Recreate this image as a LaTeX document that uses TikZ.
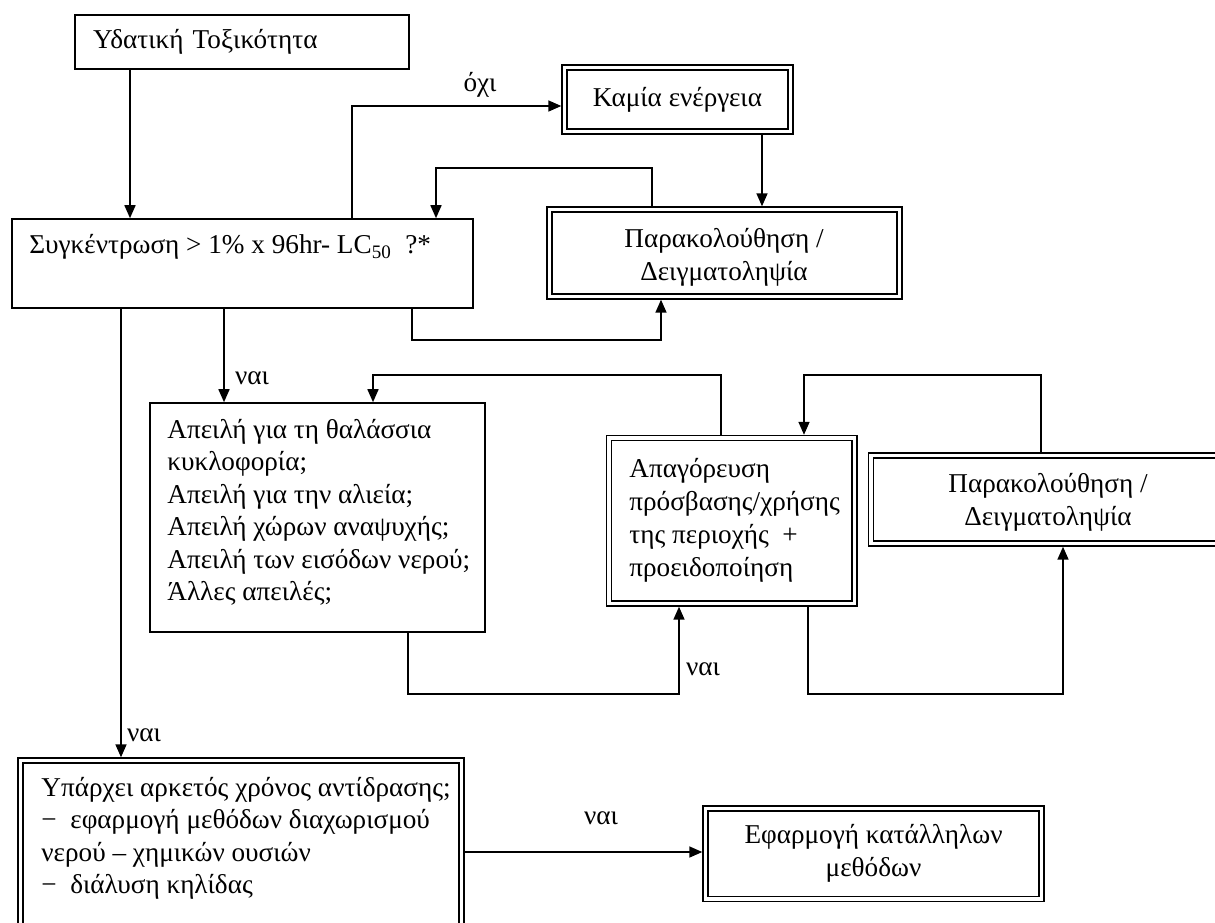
\documentclass[tikz,border=0pt]{standalone}
\usepackage{fontspec}
\setmainfont{Liberation Serif}
\usetikzlibrary{arrows.meta}
\begin{document}
\begin{tikzpicture}[x=0.5pt,y=-0.5pt,
  txt/.style={font=\fontsize{13.6}{16.2}\selectfont, inner sep=0pt},
  wide/.style={font=\fontsize{13.6}{16.5}\selectfont, inner sep=0pt},
  single/.style={draw, line width=0.8pt, outer sep=0.4pt, inner sep=0pt, txt},
  dbl/.style={draw, double, line width=0.7pt, double distance=1.8pt,
    outer sep=1.6pt, inner sep=0pt, align=center, wide},
  conn/.style={line width=0.8pt},
  arr/.style={conn, -{Triangle[length=6.5pt,width=5.5pt]}},
  lab/.style={txt}
]
\useasboundingbox (0,0) rectangle (1215,922);
\fill[white] (0,0) rectangle (1215,922);
\clip (0,0) rectangle (1215,922);

% boxes
\node[single, minimum width=167pt, minimum height=27pt, text width=149pt,
      inner xsep=9pt, align=left] (A) at (242,42) {Υδατική Τοξικότητα};
\node[single, minimum width=230.5pt, minimum height=44.5pt] (B) at (242.5,263.5) {};
\node[dbl, minimum width=113pt, minimum height=32pt] (C) at (677.5,99.5) {Καμία ενέργεια};
\node[dbl, minimum width=175pt, minimum height=43.5pt] (D) at (724.5,253) {};
\node[single, minimum width=167.5pt, minimum height=114.5pt] (F) at (317.5,517.5) {};
\node[dbl, minimum width=122.75pt, minimum height=82.75pt] (G) at (731.75,520.75) {};
\node[dbl, minimum width=175pt, minimum height=44pt] (H) at (1046,499.5) {};
\node[dbl, minimum width=220.5pt, minimum height=89.75pt] (E) at (241,850.25) {};
\node[dbl, minimum width=168pt, minimum height=45.25pt] (I) at (873.5,853.75)
  {Εφαρμογή κατάλληλων\\μεθόδων};

% texts of the boxes
\node[txt, anchor=west] (tB) at (29,247)
  {Συγκέντρωση > 1\% x 96hr- LC\textsubscript{50}\ \ ?*};
\node[wide, align=center] (tD) at (724,257.5) {Παρακολούθηση /\\Δειγματοληψία};
\node[wide, align=center] (tH) at (1048,502.5) {Παρακολούθηση /\\Δειγματοληψία};
\node[txt, anchor=north west, align=left] (tF) at (167,419)
  {Απειλή για τη θαλάσσια\\κυκλοφορία;\\Απειλή για την αλιεία;\\Απειλή χώρων αναψυχής;\\Απειλή των εισόδων νερού;\\Άλλες απειλές;};
\node[wide, anchor=north west, align=left] (tG) at (629,458)
  {Απαγόρευση\\πρόσβασης/χρήσης\\της περιοχής\ \ +\\προειδοποίηση};
\node[txt, anchor=north west, align=left] (tE) at (41,777)
  {Υπάρχει αρκετός χρόνος αντίδρασης;\\−\ \ εφαρμογή μεθόδων διαχωρισμού\\νερού – χημικών ουσιών\\−\ \ διάλυση κηλίδας};

% junction points of the connectors
\coordinate (jAB) at (130,0);
\coordinate (jNo) at (352,106);
\coordinate (jCD) at (762,0);
\coordinate (jDB1) at (652,168);
\coordinate (jDB2) at (436,168);
\coordinate (jBD1) at (412,340);
\coordinate (jBD2) at (661,340);
\coordinate (jBF) at (224,0);
\coordinate (jBE) at (121,0);
\coordinate (jGF1) at (721,375);
\coordinate (jGF2) at (373,375);
\coordinate (jFG1) at (408,694);
\coordinate (jFG2) at (679,694);
\coordinate (jHG1) at (1041,375);
\coordinate (jHG2) at (804,375);
\coordinate (jGH1) at (808,694);
\coordinate (jGH2) at (1063,694);
\coordinate (jEI) at (0,852);

% connectors
\draw[arr] (A.south -| jAB) -- (B.north -| jAB);
\draw[arr] (B.north -| jNo) |- (C.west |- jNo);
\draw[arr] (C.south -| jCD) -- (D.north -| jCD);
\draw[arr] (D.north -| jDB1) |- (jDB2) -- (B.north -| jDB2);
\draw[arr] (B.south -| jBD1) |- (jBD2) -- (D.south -| jBD2);
\draw[arr] (B.south -| jBF) -- (F.north -| jBF);
\draw[arr] (B.south -| jBE) -- (E.north -| jBE);
\draw[arr] (G.north -| jGF1) |- (jGF2) -- (F.north -| jGF2);
\draw[arr] (F.south -| jFG1) |- (jFG2) -- (G.south -| jFG2);
\draw[arr] (H.north -| jHG1) |- (jHG2) -- (G.north -| jHG2);
\draw[arr] (G.south -| jGH1) |- (jGH2) -- (H.south -| jGH2);
\draw[arr] (E.east |- jEI) -- (I.west |- jEI);

% connector labels
\node[lab] (lNo) at (480,85) {όχι};
\node[lab] (lBF) at (252,378) {ναι};
\node[lab] (lBE) at (144,735) {ναι};
\node[lab] (lFG) at (703,669) {ναι};
\node[lab] (lEI) at (601,818) {ναι};
\end{tikzpicture}
\end{document}
